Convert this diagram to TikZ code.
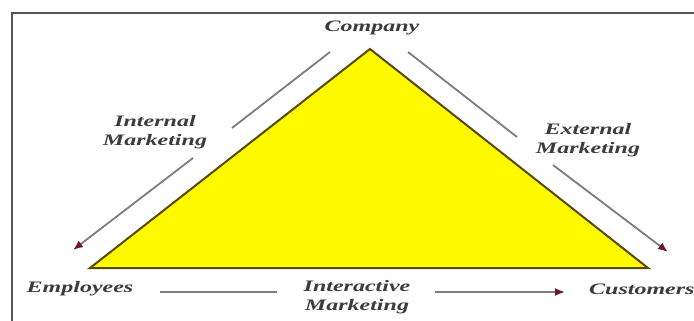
\documentclass[tikz,border=0pt]{standalone}
\usepackage{fontspec}
\setmainfont{Liberation Serif}
\usetikzlibrary{arrows.meta}
\definecolor{triyellow}{RGB}{255,250,0}
\definecolor{triedge}{RGB}{88,72,0}
\definecolor{linegray}{RGB}{125,125,125}
\definecolor{tipred}{RGB}{110,20,50}
\definecolor{txtgray}{RGB}{60,60,60}
\definecolor{framegray}{RGB}{85,85,85}
\newcommand{\stretchtxt}[1]{\scalebox{1.5}[1]{#1}}
\tikzset{
  lbl/.style={font=\fontsize{16}{19}\selectfont\bfseries\itshape, text=txtgray, inner sep=0pt, align=center},
  conn/.style={draw=linegray, line width=1.8pt},
  arr/.style={conn, -{Latex[length=10pt,width=8pt,color=tipred]}},
}
\begin{document}
\begin{tikzpicture}[x=1pt,y=-1pt]
\useasboundingbox (0,0) rectangle (694,321);
\clip (0,0) rectangle (694,321);
\fill[white] (0,0) rectangle (694,321);
% frame
\draw[framegray, line width=1.5pt] (694,13) -- (12,13) -- (12,321);
% triangle
\coordinate (A) at (370,49);
\coordinate (B) at (90,268);
\coordinate (C) at (648,268);
\filldraw[fill=triyellow, draw=triedge, line width=2pt, line join=miter] (A) -- (B) -- (C) -- cycle;
% labels
\node[lbl] (company) at (372,28) {\stretchtxt{Company}};
\node[lbl] (employees) at (80,289) {\stretchtxt{Employees}};
\node[lbl, anchor=west] (customers) at (589,289) {\stretchtxt{Customers}};
\node[lbl] (internal) at (155,132) {\stretchtxt{Internal}\\\stretchtxt{Marketing}};
\node[lbl] (external) at (588,140) {\stretchtxt{External}\\\stretchtxt{Marketing}};
\node[lbl] (interactive) at (357,297) {\stretchtxt{Interactive}\\\stretchtxt{Marketing}};
% connector points
\coordinate (i1) at (330,52);
\coordinate (i2) at (232,128);
\coordinate (i3) at (193,158);
\coordinate (i4) at (73,250);
\coordinate (e1) at (408,52);
\coordinate (e2) at (517,137);
\coordinate (e3) at (553,165);
\coordinate (e4) at (668,252);
\coordinate (b1) at (160,292);
\coordinate (b2) at (277,292);
\coordinate (b3) at (435,292);
\coordinate (b4) at (565,292);
% connectors
\draw[conn] (i1) -- (i2);
\draw[arr] (i3) -- (i4);
\draw[conn] (e1) -- (e2);
\draw[arr] (e3) -- (e4);
\draw[conn] (b1) -- (b2);
\draw[arr] (b3) -- (b4);
\end{tikzpicture}
\end{document}
